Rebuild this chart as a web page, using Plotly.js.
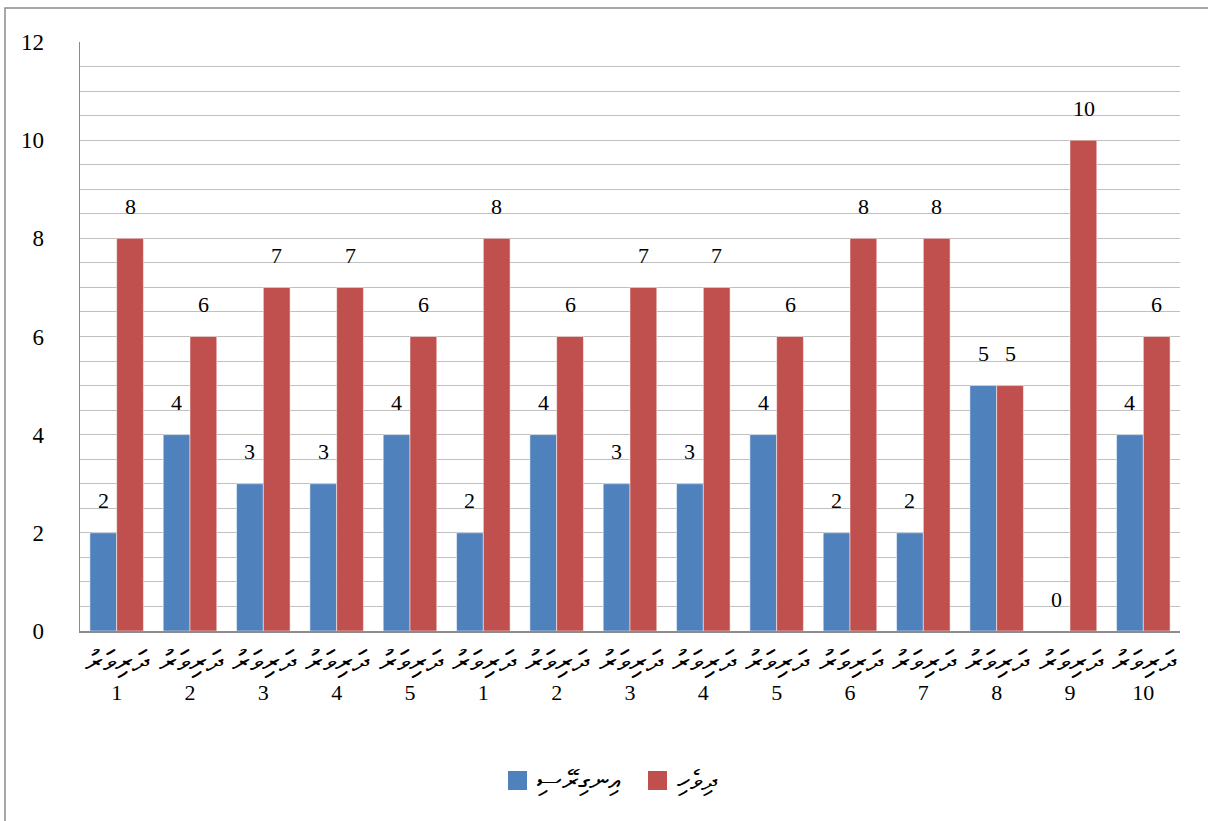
<!DOCTYPE html>
<html><head><meta charset="utf-8">
<script src="https://cdn.plot.ly/plotly-3.0.1.min.js"></script>
<style>html,body{margin:0;padding:0;background:#fff;}#chart{width:1208px;height:821px;}</style>
</head><body><div id="chart"></div>
<script>
const categoryWord = "ދަރިވަރު";
const categoryNumbers = ["1","2","3","4","5","1","2","3","4","5","6","7","8","9","10"];
const seriesNames = ["އިނގިރޭސި", "ދިވެހި"];
const englishValues = [2,4,3,3,4,2,4,3,3,4,2,2,5,0,4];
const dhivehiValues = [8,6,7,7,6,8,6,7,7,6,8,8,5,10,6];
const seriesColors = ['#4f81bd', '#c0504d'];
const yTicks = [0,2,4,6,8,10,12];

const idx = categoryNumbers.map((_, i) => i);
const tickText = categoryNumbers.map(n => '<span style="font-size:30px">' + categoryWord + '</span><br>' + n);
const fontFam = 'Liberation Serif';

const traces = [
  {type:'bar', x: idx, y: englishValues, name: seriesNames[0], marker:{color: seriesColors[0], line:{color:'#ffffff', width:0.5}}},
  {type:'bar', x: idx, y: dhivehiValues, name: seriesNames[1], marker:{color: seriesColors[1], line:{color:'#ffffff', width:0.5}}}
];

const annotations = [];
[englishValues, dhivehiValues].forEach((vals, s) => {
  vals.forEach((v, i) => {
    annotations.push({x: i, y: v, xref:'x', yref:'y', text: String(v), showarrow:false,
      xshift: s === 0 ? -13.5 : 13.5, yshift: 32,
      font:{family: fontFam, size: 22, color:'#000'}});
  });
});

const L = 80, T = 42, W = 1100, H = 589;
const px = x => (x - L) / W;
const py = y => (T + H - y) / H;
const legendItems = [{x0: 508, tx: 535}, {x0: 648, tx: 675}];
const shapes = [{type: 'rect', xref: 'paper', yref: 'paper', x0: px(5), x1: px(1300), y0: py(900), y1: py(8),
  line: {color: '#8c8c8c', width: 1.5}, fillcolor: 'rgba(0,0,0,0)', layer: 'below'}];
legendItems.forEach((it, k) => {
  shapes.push({type: 'rect', xref: 'paper', yref: 'paper', x0: px(it.x0), x1: px(it.x0 + 19), y0: py(790), y1: py(771),
    line: {width: 0}, fillcolor: seriesColors[k]});
  annotations.push({xref: 'paper', yref: 'paper', x: px(it.tx), y: py(780), xanchor: 'left', yanchor: 'middle',
    showarrow: false, text: seriesNames[k], font: {family: fontFam, size: 28, color: '#000'}});
});

const layout = {
  width: 1208, height: 821,
  margin: {l: L, r: 1208 - L - W, t: T, b: 821 - T - H},
  paper_bgcolor: '#fff', plot_bgcolor: '#fff',
  font: {family: fontFam},
  barmode: 'group', bargap: 0.27, bargroupgap: 0,
  showlegend: false,
  xaxis: {tickmode: 'array', tickvals: idx, ticktext: tickText, range: [-0.5, 14.5],
    showgrid: false, showline: true, linecolor: '#8c8c8c', linewidth: 2, ticks: '',
    ticklabelstandoff: 12, tickfont: {family: fontFam, size: 22, color: '#000'}, zeroline: false},
  yaxis: {range: [0, 12], tickmode: 'array', tickvals: yTicks, showgrid: true, gridcolor: '#c0c0c0', gridwidth: 1,
    minor: {dtick: 0.5, showgrid: true, gridcolor: '#c0c0c0', gridwidth: 1},
    showline: true, linecolor: '#8c8c8c', linewidth: 1.5, ticks: '', zeroline: false,
    ticklabelstandoff: 30, tickfont: {family: fontFam, size: 23, color: '#000'}},
  annotations: annotations,
  shapes: shapes
};

Plotly.newPlot('chart', traces, layout, {displayModeBar: false, staticPlot: true});
</script></body></html>
